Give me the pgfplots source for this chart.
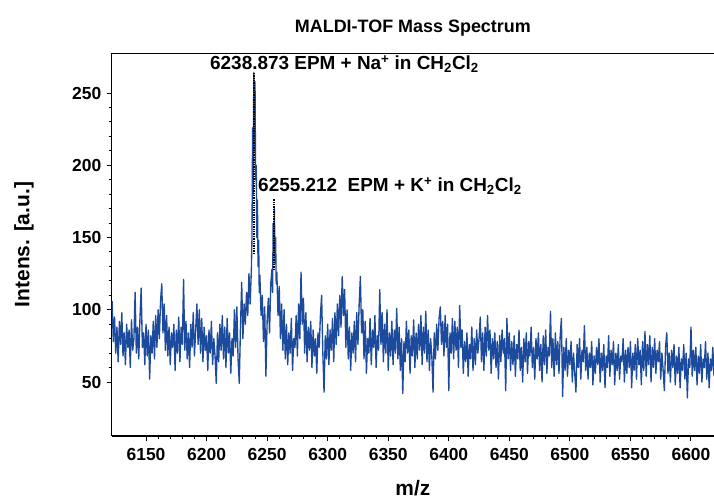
\documentclass[border=0pt]{standalone}
\usepackage{fontspec}
\setmainfont{Liberation Sans}
\usepackage{pgfplots}
\pgfplotsset{compat=1.18}
\definecolor{specblue}{RGB}{28,74,156}
\begin{document}
\begin{tikzpicture}
\begin{axis}[
  scale only axis,
  width=602bp, height=383bp,
  xmin=6121.7, xmax=6619, ymin=12.5, ymax=277.7,
  axis x line*=bottom, axis y line*=left,
  axis line style={line width=1.5bp, black},
  tick align=outside,
  major tick length=5bp, minor tick length=3bp,
  every tick/.style={black, line width=1bp},
  xtick={6150,6200,...,6600}, ytick={50,100,...,250},
  minor x tick num=4, minor y tick num=4,
  tick label style={font=\fontsize{17.5}{18}\selectfont\bfseries, /pgf/number format/assume math mode=true},
  xticklabel style={/pgf/number format/1000 sep=, yshift=-4bp},
  yticklabel style={xshift=-2bp},
  clip=true,
]
\addplot[specblue, line width=1.35bp, line join=round] coordinates {
(6122,106)(6123,78)(6124,95)(6125,70)(6126,88)(6127,64)(6128,92)(6129,76)(6130,98)(6131,68)
(6132,84)(6133,62)(6134,90)(6135,74)(6136,86)(6137,60)(6138,93)(6139,72)(6140,80)(6141,112)
(6142,70)(6143,88)(6144,66)(6145,94)(6146,115)(6147,74)(6148,84)(6149,62)(6150,90)(6151,68)
(6152,86)(6153,52)(6154,82)(6155,70)(6156,92)(6157,66)(6158,96)(6159,74)(6160,100)(6161,80)
(6162,106)(6163,118)(6164,84)(6165,104)(6166,72)(6167,96)(6168,68)(6169,88)(6170,62)(6171,84)
(6172,74)(6173,90)(6174,58)(6175,86)(6176,70)(6177,95)(6178,64)(6179,88)(6180,76)(6181,121)
(6182,72)(6183,92)(6184,66)(6185,84)(6186,60)(6187,90)(6188,74)(6189,98)(6190,68)(6191,86)
(6192,104)(6193,76)(6194,100)(6195,70)(6196,94)(6197,64)(6198,88)(6199,72)(6200,82)(6201,58)
(6202,86)(6203,70)(6204,92)(6205,62)(6206,80)(6207,68)(6208,49)(6209,84)(6210,64)(6211,90)
(6212,72)(6213,96)(6214,66)(6215,88)(6216,60)(6217,94)(6218,70)(6219,84)(6220,56)(6221,80)
(6222,68)(6223,100)(6224,74)(6225,102)(6226,66)(6227,49)(6228,88)(6229,119)(6230,80)(6231,104)
(6232,90)(6233,112)(6234,96)(6235,125)(6236,104)(6237,128)(6237.5,150)(6238,226)(6238.5,180)
(6239,264)(6239.5,210)(6240,258)(6240.5,190)(6241,200)(6241.5,150)(6242,176)(6242.5,130)
(6243,148)(6243.5,112)(6244,124)
(6245,96)(6246,110)(6247,78)(6248,102)(6249,54)(6250,92)
(6251,108)(6252,84)(6253,118)(6254,128)(6254.5,112)(6255,160)(6255.5,140)(6256,170)(6256.5,132)
(6257,150)(6257.5,118)(6258,126)(6259,96)(6260,116)(6261,80)(6262,104)
(6263,72)(6264,100)(6265,66)(6266,90)(6267,62)(6268,84)(6269,70)(6270,94)(6271,58)(6272,80)
(6273,74)(6274,96)(6275,68)(6276,104)(6277,80)(6278,126)(6279,90)(6280,108)(6281,70)(6282,98)
(6283,64)(6284,88)(6285,72)(6286,92)(6287,60)(6288,86)(6289,68)(6290,80)(6291,56)(6292,84)
(6293,74)(6294,96)(6295,110)(6296,70)(6297,43)(6298,82)(6299,66)(6300,90)(6301,62)(6302,86)
(6303,72)(6304,94)(6305,64)(6306,98)(6307,76)(6308,104)(6309,82)(6310,110)(6311,88)(6312,123)
(6313,96)(6314,114)(6315,74)(6316,100)(6317,66)(6318,88)(6319,58)(6320,84)(6321,70)(6322,92)
(6323,64)(6324,98)(6325,76)(6326,104)(6327,123)(6328,84)(6329,100)(6330,66)(6331,92)(6332,56)
(6333,80)(6334,70)(6335,94)(6336,62)(6337,86)(6338,74)(6339,96)(6340,60)(6341,82)(6342,72)
(6343,114)(6344,76)(6345,98)(6346,64)(6347,90)(6348,70)(6349,100)(6350,58)(6351,84)(6352,68)
(6353,92)(6354,62)(6355,86)(6356,70)(6357,101)(6358,66)(6359,88)(6360,58)(6361,80)(6362,42)
(6363,78)(6364,64)(6365,92)(6366,70)(6367,86)(6368,56)(6369,82)(6370,68)(6371,93)(6372,60)
(6373,84)(6374,66)(6375,90)(6376,72)(6377,96)(6378,62)(6379,88)(6380,70)(6381,99)(6382,64)
(6383,86)(6384,58)(6385,80)(6386,68)(6387,43)(6388,84)(6389,66)(6390,90)(6391,72)(6392,94)
(6393,102)(6394,76)(6395,92)(6396,68)(6397,96)(6398,74)(6399,90)(6400,44)(6401,84)(6402,70)
(6403,94)(6404,66)(6405,92)(6406,72)(6407,88)(6408,60)(6409,103)(6410,74)(6411,86)(6412,56)
(6413,78)(6414,64)(6415,84)(6416,54)(6417,76)(6418,66)(6419,88)(6420,58)(6421,80)(6422,62)
(6423,86)(6424,70)(6425,80)(6426,95)(6427,64)(6428,84)(6429,58)(6430,88)(6431,68)(6432,96)
(6433,72)(6434,86)(6435,56)(6436,80)(6437,66)(6438,84)(6439,60)(6440,78)(6441,52)(6442,82)
(6443,64)(6444,86)(6445,70)(6446,80)(6447,44)(6448,94)(6449,66)(6450,84)(6451,58)(6452,78)
(6453,62)(6454,82)(6455,54)(6456,76)(6457,66)(6458,86)(6459,58)(6460,74)(6461,50)(6462,80)
(6463,64)(6464,84)(6465,56)(6466,78)(6467,68)(6468,88)(6469,60)(6470,74)(6471,52)(6472,80)
(6473,66)(6474,84)(6475,58)(6476,76)(6477,50)(6478,82)(6479,62)(6480,86)(6481,56)(6482,74)
(6483,68)(6484,99)(6485,60)(6486,80)(6487,54)(6488,84)(6489,62)(6490,78)(6491,56)(6492,82)
(6493,94)(6494,40)(6495,74)(6496,58)(6497,80)(6498,54)(6499,72)(6500,62)(6501,78)(6502,50)
(6503,70)(6504,56)(6505,43)(6506,76)(6507,60)(6508,80)(6509,52)(6510,72)(6511,64)(6512,89)
(6513,58)(6514,74)(6515,52)(6516,70)(6517,60)(6518,78)(6519,48)(6520,68)(6521,56)(6522,74)
(6523,62)(6524,80)(6525,50)(6526,70)(6527,58)(6528,76)(6529,46)(6530,68)(6531,60)(6532,82)
(6533,54)(6534,72)(6535,62)(6536,78)(6537,48)(6538,70)(6539,58)(6540,76)(6541,52)(6542,68)
(6543,64)(6544,80)(6545,50)(6546,72)(6547,56)(6548,74)(6549,60)(6550,78)(6551,46)(6552,70)
(6553,58)(6554,76)(6555,52)(6556,80)(6557,62)(6558,72)(6559,48)(6560,78)(6561,58)(6562,85)
(6563,54)(6564,76)(6565,62)(6566,82)(6567,50)(6568,74)(6569,60)(6570,80)(6571,56)(6572,72)
(6573,64)(6574,78)(6575,52)(6576,70)(6577,58)(6578,44)(6579,74)(6580,84)(6581,56)(6582,70)
(6583,50)(6584,72)(6585,60)(6586,76)(6587,48)(6588,68)(6589,56)(6590,74)(6591,46)(6592,66)
(6593,58)(6594,76)(6595,52)(6596,70)(6597,39)(6598,66)(6599,60)(6600,88)(6601,54)(6602,72)
(6603,58)(6604,74)(6605,48)(6606,68)(6607,56)(6608,76)(6609,50)(6610,66)(6611,60)(6612,78)
(6613,52)(6614,70)(6615,46)(6616,66)(6617,58)(6618,74)(6619,54)
};
\draw[black, line width=1.5bp] (rel axis cs:0,1) -- (rel axis cs:1,1);
\draw[black, densely dotted, line width=1.4bp] (axis cs:6239.2,264) -- (axis cs:6239.2,139);
\draw[black, densely dotted, line width=1.4bp] (axis cs:6255.7,176.5) -- (axis cs:6255.7,127);
\node[anchor=west, font=\fontsize{19}{20}\selectfont\bfseries, inner sep=0pt] at (axis cs:6202.8,270) {6238.873 EPM + Na\textsuperscript{+} in CH\textsubscript{2}Cl\textsubscript{2}};
\node[anchor=west, font=\fontsize{19}{20}\selectfont\bfseries, inner sep=0pt] at (axis cs:6242.5,185.5) {6255.212\ \ EPM + K\textsuperscript{+} in CH\textsubscript{2}Cl\textsubscript{2}};
\end{axis}
\node[font=\fontsize{18}{19}\selectfont\bfseries] at ([yshift=25bp]current axis.north) {MALDI-TOF Mass Spectrum};
\node[font=\fontsize{21}{22}\selectfont\bfseries, rotate=90] at ([xshift=-87.7bp]current axis.west) {Intens. [a.u.]};
\node[font=\fontsize{21}{22}\selectfont\bfseries] at ([yshift=-52bp]current axis.south) {m/z};
\pgfresetboundingbox
\path[use as bounding box] ([xshift=-111.7bp,yshift=-65bp]current axis.south west) rectangle ([yshift=53bp]current axis.north east);
\end{tikzpicture}
\end{document}
